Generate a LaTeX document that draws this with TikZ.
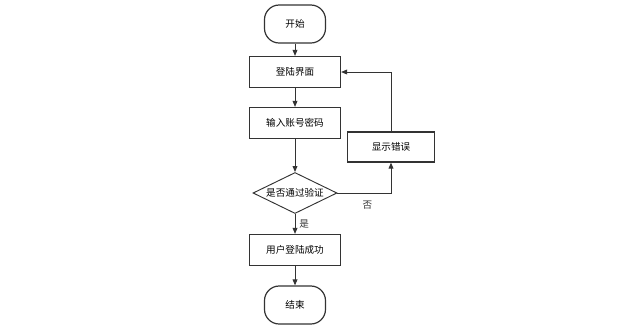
\documentclass[tikz,border=0pt]{standalone}
\usepackage{fontspec}
\usepackage{tikz}
\usetikzlibrary{arrows.meta,positioning,shapes.geometric}
\newfontfamily\cjk{Noto Sans CJK SC}
\definecolor{linea}{HTML}{333333}

\begin{document}
\begin{tikzpicture}[x=0.75pt, y=-0.75pt,
  kuang/.style={draw=linea, line width=0.9pt, minimum width=68.25pt, minimum height=23.25pt,
               inner sep=0pt, align=center, font=\cjk\fontsize{7.2}{9}\selectfont},
  duan/.style={kuang, minimum width=45.75pt, minimum height=28.5pt, rounded corners=11pt},
  panduan/.style={kuang, diamond, aspect=2, minimum width=63pt, minimum height=30.75pt, line width=0.7pt},
  biao/.style={font=\cjk\fontsize{7.2}{9}\selectfont, inner sep=3pt},
  jiantou/.style={-{Triangle[length=4.5pt,width=3.6pt]}, line width=0.7pt, linea}]
\useasboundingbox (0,0) rectangle (643,330);
\node[duan] (start) at (295,24) {开始};
\node[kuang] (login) at (295,72) {登陆界面};
\node[kuang] (input) at (295,123) {输入账号密码};
\node[panduan] (check) at (295,193) {是否通过验证};
\node[kuang, minimum width=65.25pt, minimum height=22.5pt] (err) at (391,147) {显示错误};
\node[kuang] (ok) at (295,250) {用户登陆成功};
\node[duan] (end) at (295,305) {结束};
\foreach \a/\b in {start/login, login/input, input/check, ok/end}
  \draw[jiantou] (\a) -- (\b);
\draw[jiantou] (check) -- node[biao, right] {是} (ok);
\draw[jiantou] (check.east) -| node[biao, pos=0.28, below=3pt] {否} (err.south);
\draw[jiantou] (err.north) |- (login.east);
\end{tikzpicture}
\end{document}
